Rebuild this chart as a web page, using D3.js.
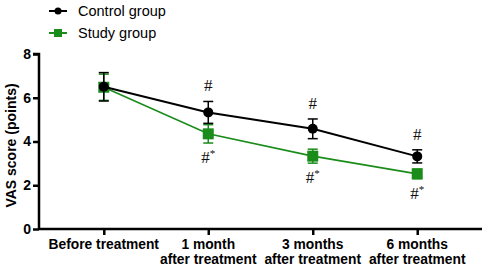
<!DOCTYPE html>
<html>
<head>
<meta charset="utf-8">
<script src="https://cdn.jsdelivr.net/npm/d3@7"></script>
<style>
  body { margin: 0; background: #fff; }
  svg { display: block; font-family: Arial, "Liberation Sans", sans-serif; }
</style>
</head>
<body>
<div id="chart"></div>
<script>
// data
const categories = ['Before treatment', '1 month|after treatment', '3 months|after treatment', '6 months|after treatment'];
const controlMean = [6.5, 5.33, 4.58, 3.32];
const controlErr = [0.65, 0.5, 0.45, 0.3];
const studyMean = [6.48, 4.35, 3.33, 2.52];
const studyErr = [0.6, 0.42, 0.32, 0.22];
const controlMarks = ['', '#', '#', '#'];
const studyMarks = ['', '#*', '#*', '#*'];
const yTicks = [0, 2, 4, 6, 8];

const width = 484, height = 270;
const margin = { top: 54, right: 2, bottom: 41, left: 39 };

const svg = d3.select('#chart').append('svg')
  .attr('width', width)
  .attr('height', height);

const x = d3.scalePoint()
  .domain(categories)
  .range([margin.left, width - margin.right])
  .padding(0.62);

const y = d3.scaleLinear()
  .domain([0, 8])
  .range([height - margin.bottom, margin.top]);

// axes
const yAxis = svg.append('g')
  .attr('transform', `translate(${margin.left},0)`)
  .call(d3.axisLeft(y).tickValues(yTicks).tickSize(6).tickPadding(2));
yAxis.select('.domain').attr('d', `M-6,${y(8)}H0V${y(0)}`).attr('stroke-width', 2.5);
yAxis.selectAll('.tick line').attr('stroke-width', 2.5);
yAxis.selectAll('.tick text')
  .style('font-size', '14px').style('font-weight', 'bold').attr('fill', '#000');

const xAxis = svg.append('g')
  .attr('transform', `translate(0,${y(0)})`)
  .call(d3.axisBottom(x).tickSize(6).tickFormat(''));
xAxis.select('.domain').attr('d', `M${margin.left},0H${width - margin.right}`).attr('stroke-width', 2.5);
xAxis.selectAll('.tick line').attr('stroke-width', 2.5);

const xLabels = svg.append('g');
categories.forEach(c => {
  const lines = c.split('|');
  const t = xLabels.append('text')
    .attr('x', x(c))
    .attr('y', y(0) + 20)
    .attr('text-anchor', 'middle')
    .style('font-size', '13.8px')
    .style('font-weight', 'bold');
  lines.forEach((l, i) => {
    t.append('tspan').attr('x', x(c)).attr('dy', i === 0 ? 0 : 15).text(l);
  });
});

svg.append('text')
  .attr('transform', `translate(16,${(y(0) + y(8)) / 2 + 4}) rotate(-90)`)
  .attr('text-anchor', 'middle')
  .style('font-size', '14px')
  .style('font-weight', 'bold')
  .text('VAS score (points)');

// series
const series = [
  { name: 'Control group', mean: controlMean, err: controlErr, marks: controlMarks, color: '#000', shape: 'circle', lw: 2 },
  { name: 'Study group', mean: studyMean, err: studyErr, marks: studyMarks, color: '#1a8c1a', shape: 'square', lw: 1.6 }
];

const line = d3.line()
  .x((d, i) => x(categories[i]))
  .y(d => y(d));

// draw study first so control sits on top at the first point
[series[1], series[0]].forEach(s => {
  const g = svg.append('g');
  g.append('path')
    .datum(s.mean)
    .attr('d', line)
    .attr('fill', 'none')
    .attr('stroke', s.color)
    .attr('stroke-width', s.lw);

  s.mean.forEach((m, i) => {
    const cx = x(categories[i]);
    const top = y(m + s.err[i]), bot = y(m - s.err[i]);
    const eb = g.append('g').attr('stroke', s.color).attr('stroke-width', 1.5);
    eb.append('line').attr('x1', cx).attr('x2', cx).attr('y1', top).attr('y2', bot);
    eb.append('line').attr('x1', cx - 5).attr('x2', cx + 5).attr('y1', top).attr('y2', top);
    eb.append('line').attr('x1', cx - 5).attr('x2', cx + 5).attr('y1', bot).attr('y2', bot);
    if (s.shape === 'circle') {
      g.append('circle').attr('cx', cx).attr('cy', y(m)).attr('r', 5).attr('fill', s.color);
    } else {
      g.append('rect').attr('x', cx - 5.5).attr('y', y(m) - 5.5).attr('width', 11).attr('height', 11).attr('fill', s.color);
    }
  });
});

// significance marks
series.forEach((s, k) => {
  s.mean.forEach((m, i) => {
    if (!s.marks[i]) return;
    const cx = x(categories[i]);
    const ty = k === 0 ? y(m + s.err[i]) - 10 : y(m - s.err[i]) + 20;
    const t = svg.append('text')
      .attr('x', cx)
      .attr('y', ty)
      .attr('text-anchor', 'middle')
      .style('font-family', '"Liberation Serif", "DejaVu Serif", serif')
      .style('font-size', '17px')
      .attr('fill', '#111');
    t.append('tspan').text('#');
    if (s.marks[i].includes('*')) {
      t.append('tspan').attr('dy', -6).style('font-size', '11px').text('*');
    }
  });
});

// legend
const legend = svg.append('g');
series.forEach((s, i) => {
  const ly = 11 + i * 22;
  legend.append('line').attr('x1', 49).attr('x2', 67).attr('y1', ly).attr('y2', ly)
    .attr('stroke', s.color).attr('stroke-width', 2);
  if (s.shape === 'circle') {
    legend.append('circle').attr('cx', 58).attr('cy', ly).attr('r', 3.5).attr('fill', s.color);
  } else {
    legend.append('rect').attr('x', 54).attr('y', ly - 4).attr('width', 8).attr('height', 8).attr('fill', s.color);
  }
  legend.append('text').attr('x', 78).attr('y', ly + 5)
    .style('font-size', '14.5px').text(s.name);
});
</script>
</body>
</html>
